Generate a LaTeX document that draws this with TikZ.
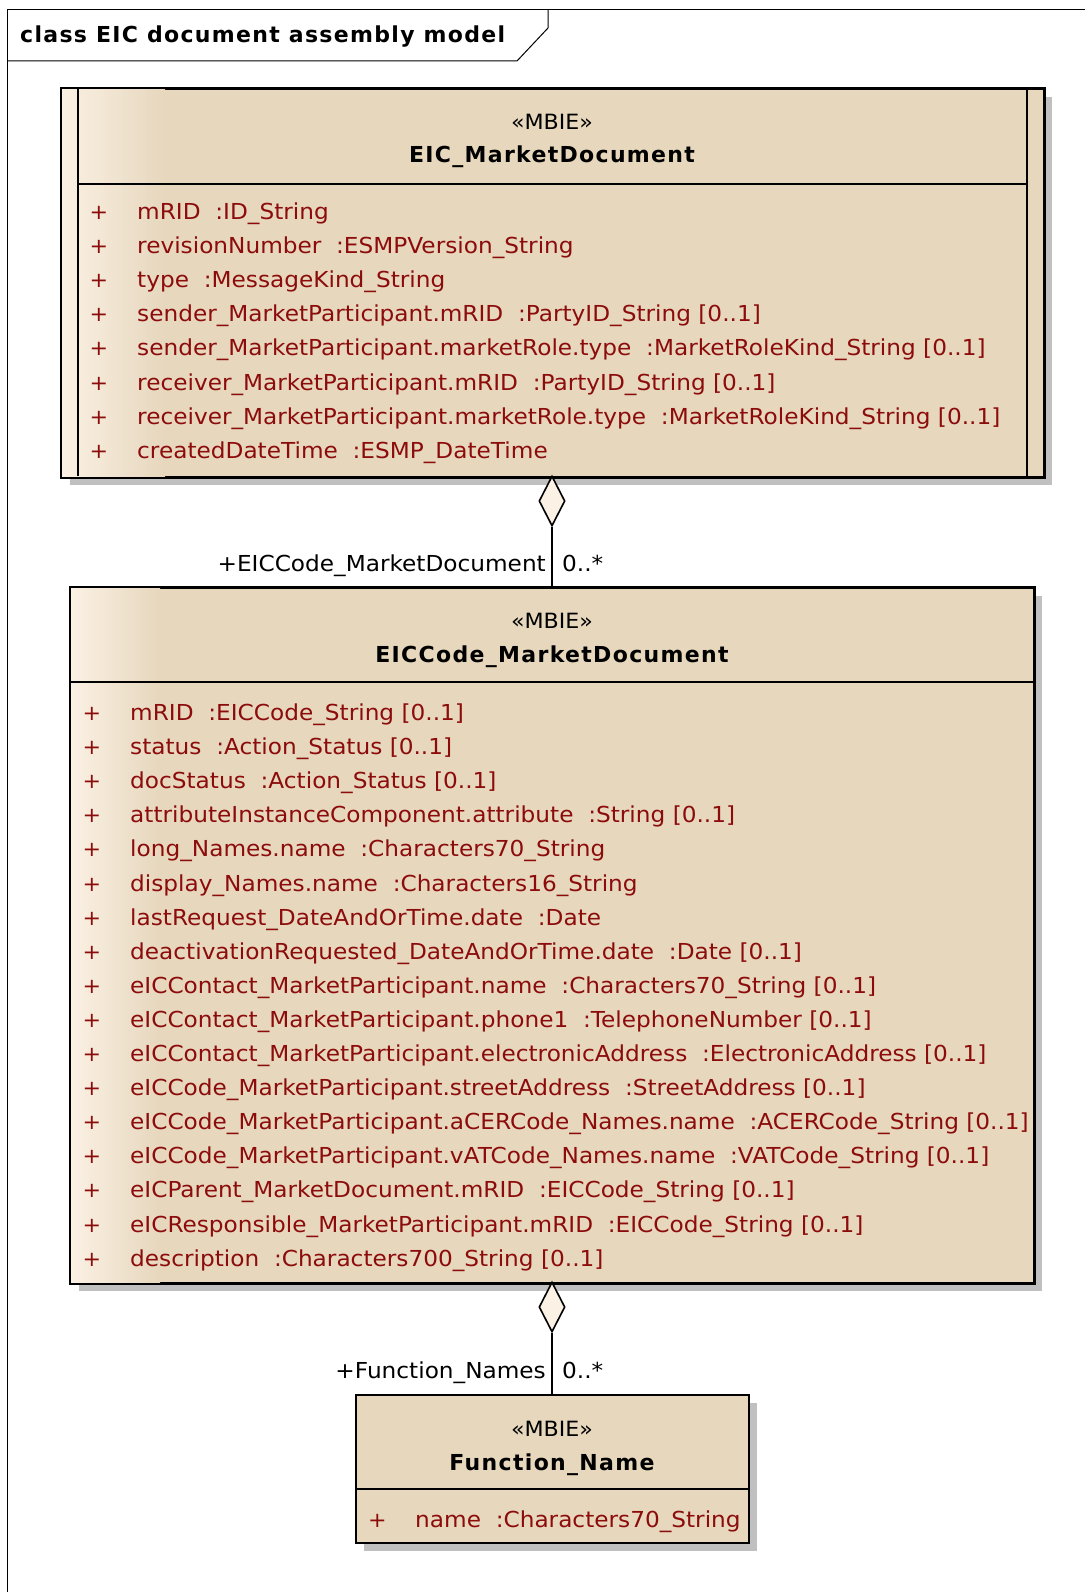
\documentclass[tikz,border=0pt]{standalone}
\usepackage{fontspec}
\setmainfont{DejaVu Sans}[FakeStretch=1.055]
\newfontfamily\clsfont{DejaVu Sans}[LetterSpace=6]
\usetikzlibrary{shapes.geometric,shadows}
\definecolor{tanc}{RGB}{230,215,189}
\definecolor{creamc}{RGB}{251,241,228}
\definecolor{attrc}{RGB}{140,12,12}
\definecolor{shadowc}{RGB}{192,192,192}
\tikzset{
  cls/.style={draw=black, line width=1.8pt, fill=tanc, inner sep=0pt, anchor=north west,
    drop shadow={shadow xshift=8pt, shadow yshift=-8pt, fill=shadowc, opacity=1}},
  sep/.style={draw=black, line width=1.8pt},
  attr/.style={anchor=base west, text=attrc, font=\fontsize{22}{22}\selectfont, inner sep=0pt},
  plus/.style={anchor=base, text=attrc, font=\fontsize{21}{21}\selectfont, inner sep=0pt},
  stereo/.style={anchor=center, font=\fontsize{21}{21}\selectfont, inner sep=0pt},
  cname/.style={anchor=center, font=\fontsize{22}{22}\clsfont\bfseries, inner sep=0pt},
  role/.style={font=\fontsize{22}{22}\selectfont, inner sep=0pt},
  agg/.style={diamond, draw=black, line width=1.6pt, fill=creamc, inner sep=0pt, minimum width=26pt, minimum height=50pt},
  conn/.style={draw=black, line width=1.8pt},
}
\begin{document}
\begin{tikzpicture}[x=1pt,y=-1pt]
\useasboundingbox (0,0) rectangle (1085,1592);
% frame
\draw[line width=1pt] (7,1592) -- (7,10) -- (1085,10);
\draw[line width=1pt] (7,61) -- (517,61) -- (548,28) -- (548,10);
\node[anchor=west, font=\fontsize{22}{22}\clsfont\bfseries, inner sep=0pt] (title) at (20,37) {class EIC document assembly model};

% ---------- Box 1 ----------
\node[cls, minimum width=982pt, minimum height=388pt] (b1) at (61,88) {};
\shade[left color=creamc, right color=tanc] (61,88) rectangle (165,476);
\draw[sep] (b1.north west) rectangle (b1.south east);
\draw[sep] (78,88) -- (78,476);
\draw[sep] (1027,88) -- (1027,476);
\draw[sep] (78,184) -- (1027,184);
\node[stereo] (s1) at (552,122) {«MBIE»};
\node[cname] (n1) at (552,157) {EIC\_MarketDocument};
\foreach \t [count=\i] in {
  {mRID\ \ :ID\_String},
  {revisionNumber\ \ :ESMPVersion\_String},
  {type\ \ :MessageKind\_String},
  {sender\_MarketParticipant.mRID\ \ :PartyID\_String [0..1]},
  {sender\_MarketParticipant.marketRole.type\ \ :MarketRoleKind\_String [0..1]},
  {receiver\_MarketParticipant.mRID\ \ :PartyID\_String [0..1]},
  {receiver\_MarketParticipant.marketRole.type\ \ :MarketRoleKind\_String [0..1]},
  {createdDateTime\ \ :ESMP\_DateTime}}{
  \node[plus] (p1-\i) at (99,{219+34.2*(\i-1)}) {+};
  \node[attr] (a1-\i) at (137,{219+34.2*(\i-1)}) {\t};
}

% ---------- Box 2 ----------
\node[cls, minimum width=963pt, minimum height=695pt] (b2) at (70,587) {};
\shade[left color=creamc, right color=tanc] (70,587) rectangle (160,1282);
\draw[sep] (b2.north west) rectangle (b2.south east);
\draw[sep] (70,682) -- (1033,682);
\node[stereo] (s2) at (552,621) {«MBIE»};
\node[cname] (n2) at (552,657) {EICCode\_MarketDocument};
\foreach \t [count=\i] in {
  {mRID\ \ :EICCode\_String [0..1]},
  {status\ \ :Action\_Status [0..1]},
  {docStatus\ \ :Action\_Status [0..1]},
  {attributeInstanceComponent.attribute\ \ :String [0..1]},
  {long\_Names.name\ \ :Characters70\_String},
  {display\_Names.name\ \ :Characters16\_String},
  {lastRequest\_DateAndOrTime.date\ \ :Date},
  {deactivationRequested\_DateAndOrTime.date\ \ :Date [0..1]},
  {eICContact\_MarketParticipant.name\ \ :Characters70\_String [0..1]},
  {eICContact\_MarketParticipant.phone1\ \ :TelephoneNumber [0..1]},
  {eICContact\_MarketParticipant.electronicAddress\ \ :ElectronicAddress [0..1]},
  {eICCode\_MarketParticipant.streetAddress\ \ :StreetAddress [0..1]},
  {eICCode\_MarketParticipant.aCERCode\_Names.name\ \ :ACERCode\_String [0..1]},
  {eICCode\_MarketParticipant.vATCode\_Names.name\ \ :VATCode\_String [0..1]},
  {eICParent\_MarketDocument.mRID\ \ :EICCode\_String [0..1]},
  {eICResponsible\_MarketParticipant.mRID\ \ :EICCode\_String [0..1]},
  {description\ \ :Characters700\_String [0..1]}}{
  \node[plus] (p2-\i) at (92,{720.5+34.1*(\i-1)}) {+};
  \node[attr] (a2-\i) at (130,{720.5+34.1*(\i-1)}) {\t};
}

% ---------- Box 3 ----------
\node[cls, minimum width=393pt, minimum height=148pt] (b3) at (355,1394) {};
\draw[sep] (355,1489) -- (748,1489);
\node[stereo] (s3) at (552,1429) {«MBIE»};
\node[cname] (n3) at (552,1465) {Function\_Name};
\node[plus] (p3-1) at (377.5,1527) {+};
\node[attr] (a3-1) at (415,1527) {name\ \ :Characters70\_String};

% ---------- Connectors ----------
\node[agg] (d1) at (552,501) {};
\draw[conn] (d1.south) -- (d1.south |- b2.north);
\node[role, anchor=base east] (r1) at (546,571) {+EICCode\_MarketDocument};
\node[role, anchor=base west] (m1) at (562,571) {0..*};

\node[agg] (d2) at (552,1307) {};
\draw[conn] (d2.south) -- (d2.south |- b3.north);
\node[role, anchor=base east] (r2) at (546,1378) {+Function\_Names};
\node[role, anchor=base west] (m2) at (562,1378) {0..*};
\end{tikzpicture}
\end{document}
